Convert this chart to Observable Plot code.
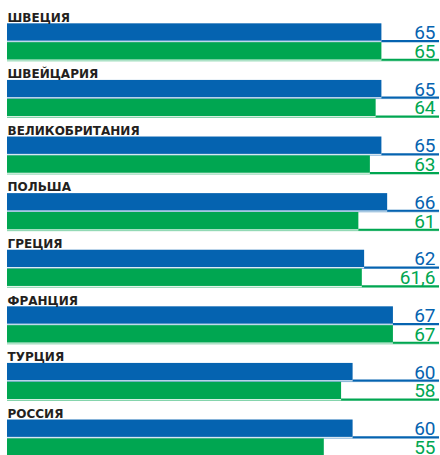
<!DOCTYPE html>
<html><head><meta charset="utf-8">
<script src="https://cdn.jsdelivr.net/npm/d3@7"></script>
<script src="https://cdn.jsdelivr.net/npm/@observablehq/plot@0.6"></script>
<style>body{margin:0;background:#fff;overflow:hidden} svg{display:block}</style>
</head><body><div id="chart"></div>
<script>
const countries = ["ШВЕЦИЯ","ШВЕЙЦАРИЯ","ВЕЛИКОБРИТАНИЯ","ПОЛЬША","ГРЕЦИЯ","ФРАНЦИЯ","ТУРЦИЯ","РОССИЯ"];
const blueValues = [65,65,65,66,62,67,60,60];
const greenValues = [65,64,63,61,61.6,67,58,55];
const blueColor = "#0563b0";
const greenColor = "#00a651";

const rows = countries.flatMap((c, i) => [
  {key: c + "|a", value: blueValues[i], color: blueColor},
  {key: c + "|b", value: greenValues[i], color: greenColor}
]);
const yDomain = countries.flatMap(c => [c + "|t", c + "|a", c + "|b"]);
const fmt = v => String(v).replace(".", ",");

const chart = Plot.plot({
  width: 440,
  height: 455,
  marginTop: 0, marginBottom: 0, marginLeft: 7, marginRight: 1,
  x: {domain: [0, 75], axis: null},
  y: {type: "band", domain: yDomain, range: [3.7, 456.5], round: false, paddingInner: 0.08, paddingOuter: 0.04, axis: null},
  marks: [
    Plot.ruleY(rows, {y: "key", x1: 0, x2: 75, stroke: "color", strokeOpacity: 0.5, strokeWidth: 1, dy: 9.5}),
    Plot.ruleY(rows, {y: "key", x1: "value", x2: 75, stroke: "color", strokeWidth: 2, dy: 8.5}),
    Plot.barX(rows, {y: "key", x: "value", fill: "color"}),
    Plot.text(rows, {y: "key", x: 75, dx: -4, dy: 6.5, text: d => fmt(d.value), fill: "color",
      textAnchor: "end", lineAnchor: "bottom", fontSize: 19, fontWeight: 400, fontFamily: "Roboto"}),
    Plot.text(countries, {y: c => c + "|t", x: 0, dy: 8, text: c => c, textAnchor: "start", lineAnchor: "bottom",
      fontSize: 12, fontWeight: "bold", fontFamily: "DejaVu Sans", fill: "#231f20"})
  ]
});
document.getElementById("chart").append(chart);
</script>
</body></html>
